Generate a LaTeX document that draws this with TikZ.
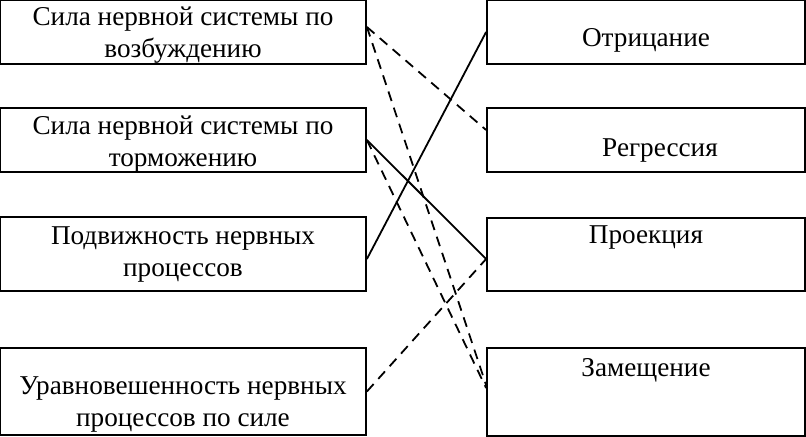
\documentclass[tikz,border=0pt]{standalone}
\usepackage{fontspec}
\setmainfont{Liberation Serif}
\usetikzlibrary{positioning}

\begin{document}
\begin{tikzpicture}[x=0.5pt,y=0.5pt,
    font=\fontsize{13.6}{16}\selectfont,
    leftbox/.style={draw,line width=0.9pt,align=center,inner sep=0pt,minimum width=183pt,minimum height=#1},
    rightbox/.style={draw,line width=0.9pt,align=center,inner sep=0pt,minimum width=159pt,minimum height=#1},
    solidlink/.style={line width=0.9pt},
    dashlink/.style={line width=0.9pt,dash pattern=on 5pt off 3.5pt}]
  \useasboundingbox (0,0) rectangle (806,437);
  % left column
  \node[leftbox=32pt,label={[yshift=-1.5pt,align=center]center:Сила нервной системы по\\возбуждению}] (vozb) at (183,405) {};
  \node[leftbox=32pt,label={[yshift=-2pt,align=center]center:Сила нервной системы по\\торможению}] (torm) at (183,297) {};
  \node[leftbox=37pt] (podv) at (183,183) {Подвижность нервных\\процессов};
  \node[leftbox=43.5pt,label={[yshift=-6.5pt,align=center]center:Уравновешенность нервных\\процессов по силе}] (urav) at (183,45.5) {};
  % right column
  \node[rightbox=32pt,label={[yshift=-4pt]center:Отрицание}] (otr) at (646,405) {};
  \node[rightbox=32pt,label={[xshift=7pt,yshift=-5pt]center:Регрессия}] (regr) at (646,297) {};
  \node[rightbox=36.5pt,label={[yshift=8.5pt]center:Проекция}] (proek) at (646,182.5) {};
  \node[rightbox=44pt,label={[yshift=11pt]center:Замещение}] (zam) at (646,45) {};
  % links
  \draw[solidlink] ([yshift=-2.5pt]podv.east) -- (otr.west);
  \draw[solidlink] (torm.east) -- ([yshift=-2.25pt]proek.west);
  \draw[dashlink] ([yshift=2.5pt]vozb.east) -- ([yshift=5pt]regr.west);
  \draw[dashlink] ([yshift=2.5pt]vozb.east) -- ([yshift=3.5pt]zam.west);
  \draw[dashlink] (torm.east) -- ([yshift=2pt]zam.west);
  \draw[dashlink] (urav.east) -- ([yshift=-2.25pt]proek.west);
\end{tikzpicture}
\end{document}
